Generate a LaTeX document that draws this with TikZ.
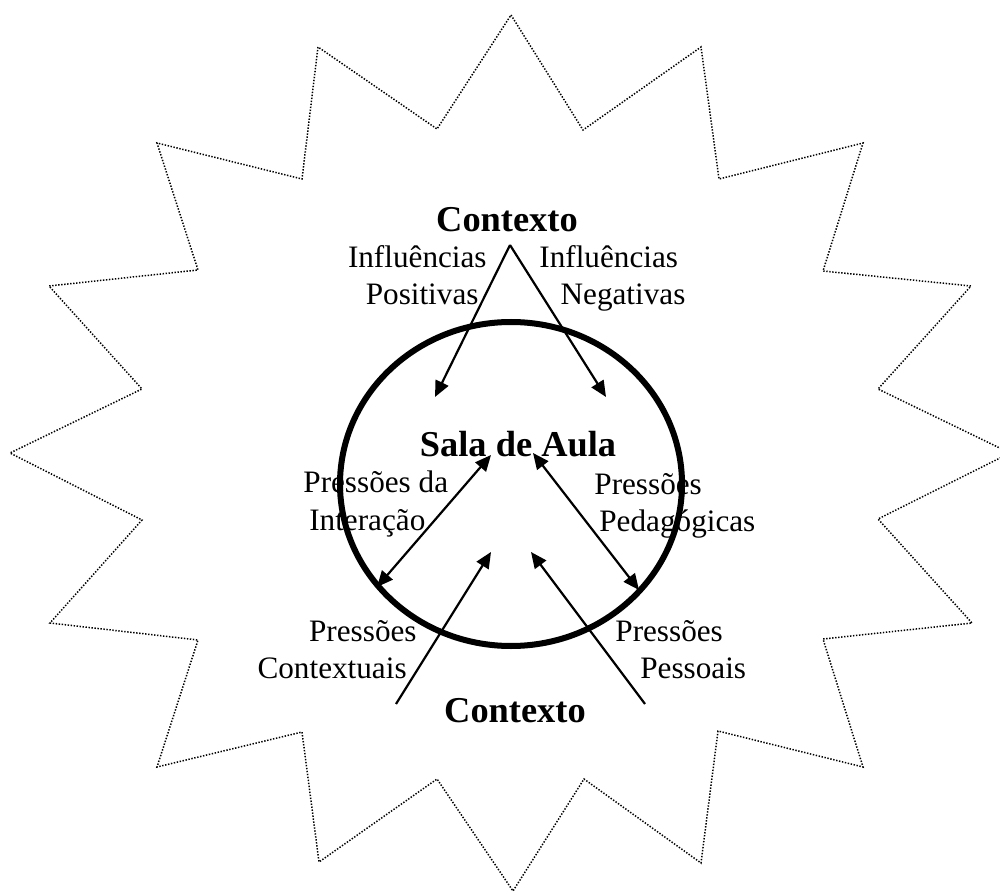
\documentclass[tikz,border=0pt]{standalone}
\usepackage{fontspec}
\setmainfont{Liberation Serif}
\usetikzlibrary{arrows.meta}

\begin{document}
\begin{tikzpicture}[
    x=0.5pt, y=-0.5pt,
    >={Triangle[length=8pt, width=7pt]},
    press/.style={font=\fontsize{15.6}{18.5}\selectfont, inner sep=0pt},
    heading/.style={font=\fontsize{18.2}{21}\selectfont\bfseries, inner sep=0pt},
    link/.style={line width=1.1pt},
    burst/.style={line width=0.75pt, dash pattern=on 0.7pt off 0.8pt, line join=miter},
    room/.style={line width=3pt}
]
    \useasboundingbox (0,0) rectangle (1000,892);

    % context around the classroom
    \draw[burst] (511,15) -- (583,130) -- (701,47) -- (719,179) -- (863,143)
        -- (823,271) -- (971,286) -- (878,389) -- (1010,453) -- (878,519)
        -- (972,623) -- (823,639) -- (863,767) -- (718,731) -- (701,863)
        -- (584,779) -- (513,891) -- (437,779) -- (319,862) -- (302,732)
        -- (157,767) -- (198,640) -- (50,623) -- (142,520) -- (10,453)
        -- (142,389) -- (49,286) -- (198,270) -- (157,143) -- (302,179)
        -- (318,47) -- (437,129) -- cycle;

    % classroom
    \draw[room] (511,484) ellipse [x radius=171, y radius=162];

    \node[heading, anchor=base] (ctxtop) at (507,232) {Contexto};
    \node[press, align=right, anchor=base east] (infpos) at (487,305) {Influências\\Positivas\hspace*{0.26em}};
    \node[press, align=left, anchor=base west] (infneg) at (539,305) {Influências\\\hspace*{0.68em}Negativas};
    \node[heading, anchor=base] (sala) at (518,457) {Sala de Aula};
    \node[press, align=left, anchor=base west] (interac) at (303,530) {Pressões da\\\hspace*{0.19em}Interação};
    \node[press, align=left, anchor=base west] (pedag) at (594,531) {Pressões\\\hspace*{0.16em}Pedagógicas};
    \node[press, align=right, anchor=base east] (contex) at (417,678) {Pressões\\Contextuais\hspace*{0.32em}};
    \node[press, align=left, anchor=base west] (pessoa) at (615,678) {Pressões\\\hspace*{0.8em}Pessoais};
    \node[heading, anchor=base] (ctxbot) at (515,722) {Contexto};

    \coordinate (apex) at (510,245);
    \coordinate (posend) at (435,397);
    \coordinate (negend) at (606,397);
    \coordinate (intup) at (491,455);
    \coordinate (intlow) at (377,587);
    \coordinate (pedup) at (533,453);
    \coordinate (pedlow) at (639,590);
    \coordinate (ctxfoot) at (396,704);
    \coordinate (ctxhead) at (491,552);
    \coordinate (pesfoot) at (645,704);
    \coordinate (peshead) at (531,552);

    % influences
    \draw[link, ->] (apex) -- (posend);
    \draw[link, ->] (apex) -- (negend);
    % pressures
    \draw[link, <->] (intlow) -- (intup);
    \draw[link, <->] (pedlow) -- (pedup);
    \draw[link, ->] (ctxfoot) -- (ctxhead);
    \draw[link, ->] (pesfoot) -- (peshead);
\end{tikzpicture}
\end{document}
